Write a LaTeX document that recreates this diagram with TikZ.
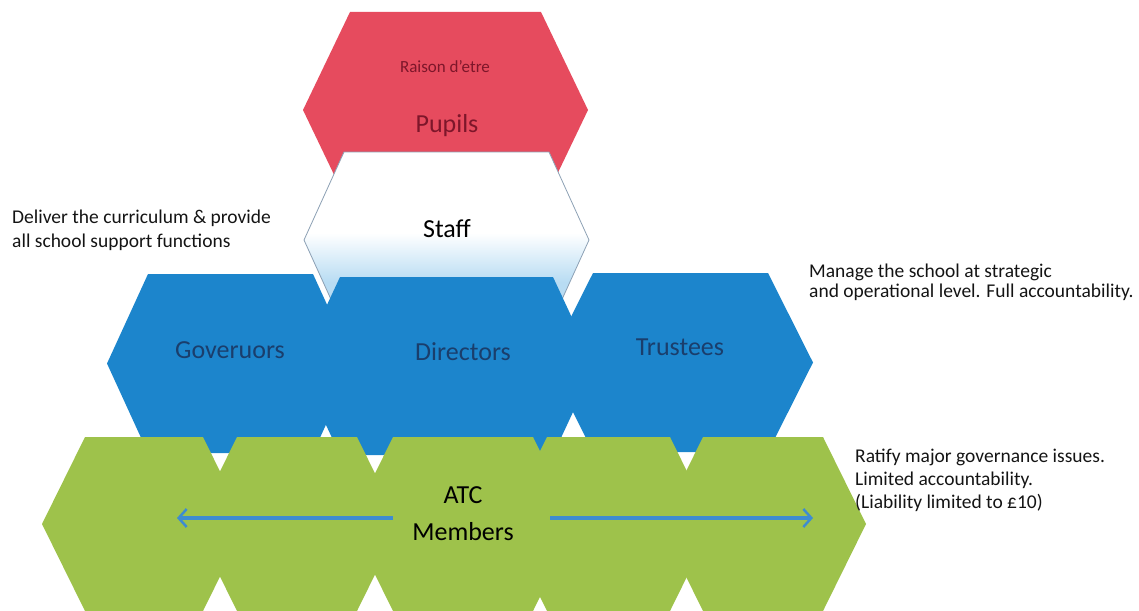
\documentclass[tikz,border=0pt]{standalone}
\usepackage{fontspec}
\setmainfont{Carlito}
\usetikzlibrary{arrows.meta}

\definecolor{pupilred}{RGB}{230,75,94}
\definecolor{pupiltext}{RGB}{125,22,42}
\definecolor{boardblue}{RGB}{28,133,204}
\definecolor{boardtext}{RGB}{26,62,108}
\definecolor{memgreen}{RGB}{158,194,75}
\definecolor{staffblue}{RGB}{184,220,243}
\definecolor{staffline}{RGB}{140,160,180}
\definecolor{arrowblue}{RGB}{62,140,208}
\definecolor{notetext}{RGB}{20,20,20}

% white above, light blue towards the lower edge
\pgfdeclareverticalshading{staffshade}{100bp}{color(0bp)=(staffblue); color(38bp)=(staffblue); color(52bp)=(white); color(100bp)=(white)}

% flat-topped hexagon: style, centre x, top y, bottom y, half top edge, half width
\newcommand{\hexfill}[6]{%
  \path[#1] (#2-#5,#3) -- (#2+#5,#3) -- (#2+#6,{(#3+#4)/2}) -- (#2+#5,#4)
    -- (#2-#5,#4) -- (#2-#6,{(#3+#4)/2}) -- cycle;}

\begin{document}
\begin{tikzpicture}[x=1pt,y=-1pt,
  pupilhex/.style={fill=pupilred},
  staffhex/.style={draw=staffline, line width=0.8pt, shade, shading=staffshade},
  boardhex/.style={fill=boardblue},
  memberhex/.style={fill=memgreen},
  hexlabel/.style={inner sep=0pt, anchor=base, font=\fontsize{26}{30}\selectfont},
  note/.style={inner sep=0pt, anchor=base west, text=notetext, font=\fontsize{19.5}{23}\selectfont},
  spread/.style={draw=arrowblue, line width=4pt,
    -{Straight Barb[length=8pt,width=18pt,line width=2.5pt]}}]
\useasboundingbox (0,0) rectangle (1139,610);

% top tier
\hexfill{pupilhex}{445.5}{12}{208}{95.5}{142.5}
\hexfill{staffhex}{446.5}{152}{328}{102.5}{142.5}

% board tier
\hexfill{boardhex}{230.5}{274}{453}{82.5}{123.5}
\hexfill{boardhex}{446.5}{277}{455}{106.5}{148}
\hexfill{boardhex}{680.5}{273}{452}{87.5}{132.5}

% members tier
\hexfill{memberhex}{144}{437}{611}{59}{102}
\hexfill{memberhex}{297}{437}{611}{60}{103}
\hexfill{memberhex}{463}{437}{611}{70}{113}
\hexfill{memberhex}{608.5}{437}{611}{61.5}{104.5}
\hexfill{memberhex}{763}{437}{611}{60}{103}

% labels inside the hexagons
\node[hexlabel, text=pupiltext, font=\fontsize{17}{20}\selectfont] (raison) at (445,72) {Raison d'etre};
\node[hexlabel, text=pupiltext, font=\fontsize{26}{30}\selectfont] (pupils) at (447,132) {Pupils};
\node[hexlabel, text=black] (staff) at (447,237) {Staff};
\node[hexlabel, text=boardtext] (governors) at (230,358) {Goveruors};
\node[hexlabel, text=boardtext] (directors) at (463,360) {Directors};
\node[hexlabel, text=boardtext] (trustees) at (680,355) {Trustees};
\node[hexlabel, text=black] (atc) at (463,503) {ATC};
\node[hexlabel, text=black] (members) at (463,540) {Members};

% spread of the membership
\coordinate (leftfrom) at (393,518);
\coordinate (leftto) at (177,518);
\coordinate (rightfrom) at (550,518);
\coordinate (rightto) at (813,518);
\draw[spread] (leftfrom) -- (leftto);
\draw[spread] (rightfrom) -- (rightto);

% side notes
\node[note] (staffnoteA) at (12,223) {Deliver the curriculum \& provide};
\node[note] (staffnoteB) at (12,247) {all school support functions};
\node[note] (boardnoteA) at (809,277) {Manage the school at strategic};
\node[note] (boardnoteB) at (809,297) {and operational level. Full accountability.};
\node[note] (memnoteA) at (855,462) {Ratify major governance issues.};
\node[note] (memnoteB) at (855,485) {Limited accountability.};
\node[note] (memnoteC) at (855,508) {(Liability limited to £10)};
\end{tikzpicture}
\end{document}
